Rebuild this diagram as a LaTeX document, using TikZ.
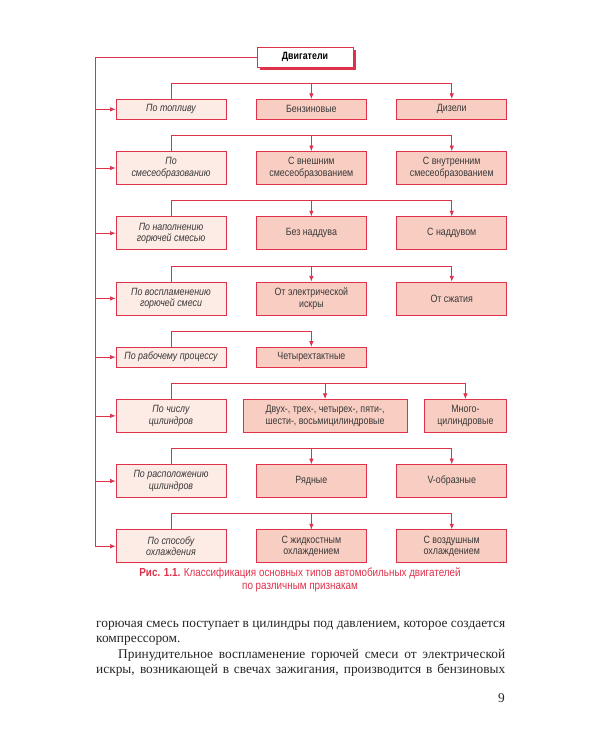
\documentclass[tikz,border=0pt]{standalone}
\usepackage{fontspec}
\setmainfont{Liberation Serif}
\newfontfamily\schemefont[FakeStretch=0.84]{Liberation Sans}
\usetikzlibrary{arrows.meta,positioning,shadows}
\definecolor{cwLine}{HTML}{E0314B}
\definecolor{cwPale}{HTML}{FDEBE5}
\definecolor{cwFill}{HTML}{F9CEC2}
\definecolor{cwText}{HTML}{383838}
\tikzset{
    head/.style={draw=cwLine, fill=white, line width=0.6pt, minimum width=2.88cm, minimum height=0.6cm, text=black, font=\schemefont\bfseries\fontsize{9}{9.8}\selectfont, general shadow={fill=cwLine, shadow xshift=2.2pt, shadow yshift=-2.2pt}},
    crit/.style={draw=cwLine, fill=cwPale, line width=0.6pt, minimum width=3.3cm, minimum height=0.6cm, inner sep=1pt, align=center, text=cwText, font=\schemefont\itshape\fontsize{9}{9.8}\selectfont},
    kind/.style={crit, fill=cwFill, font=\schemefont\fontsize{9}{9.8}\selectfont},
    tall/.style={minimum height=0.99cm},
    link/.style={draw=cwLine, line width=0.6pt, -{Latex[length=4.8pt,width=3.8pt]}},
    line/.style={draw=cwLine, line width=0.6pt}
}
\begin{document}
\begin{tikzpicture}
    \useasboundingbox[fill=white] (0,0) rectangle (18,-22.5);

    % Nodes
    \node[head] (head) at (9.15,-1.71) {Двигатели};

    \node[crit] (c1) at (5.13,-3.28) {По топливу};
    \node[kind, right=0.89cm of c1] (m1) {Бензиновые};
    \node[kind, right=0.89cm of m1] (r1) {Дизели};

    \node[crit, tall, below=0.945cm of c1] (c2) {По\\смесеобразованию};
    \node[kind, tall, right=0.89cm of c2] (m2) {С внешним\\смесеобразованием};
    \node[kind, tall, right=0.89cm of m2] (r2) {С внутренним\\смесеобразованием};

    \node[crit, tall, below=0.945cm of c2] (c3) {По наполнению\\горючей смесью};
    \node[kind, tall, right=0.89cm of c3] (m3) {Без наддува};
    \node[kind, tall, right=0.89cm of m3] (r3) {С наддувом};

    \node[crit, tall, below=0.945cm of c3] (c4) {По воспламенению\\горючей смеси};
    \node[kind, tall, right=0.89cm of c4] (m4) {От электрической\\искры};
    \node[kind, tall, right=0.89cm of m4] (r4) {От сжатия};

    \node[crit, below=0.945cm of c4] (c5) {По рабочему процессу};
    \node[kind, right=0.89cm of c5] (m5) {Четырехтактные};

    \node[crit, tall, below=0.945cm of c5] (c6) {По числу\\цилиндров};
    \node[kind, tall, minimum width=4.92cm, right=0.49cm of c6] (m6) {Двух-, трех-, четырех-, пяти-,\\шести-, восьмицилиндровые};
    \node[kind, tall, minimum width=2.46cm, right=0.5cm of m6] (r6) {Много-\\цилиндровые};

    \node[crit, tall, below=0.945cm of c6] (c7) {По расположению\\цилиндров};
    \node[kind, tall, right=0.89cm of c7] (m7) {Рядные};
    \node[kind, tall, right=0.89cm of m7] (r7) {V-образные};

    \node[crit, tall, below=0.945cm of c7] (c8) {По способу\\охлаждения};
    \node[kind, tall, right=0.89cm of c8] (m8) {С жидкостным\\охлаждением};
    \node[kind, tall, right=0.89cm of m8] (r8) {С воздушным\\охлаждением};

    % Caption and text
    \node[align=center, text=cwLine, font=\schemefont\fontsize{10}{11}\selectfont] (caption) at (9.0,-17.39)
        {{\bfseries Рис. 1.1.} Классификация основных типов автомобильных двигателей\\по различным признакам};
    \node[anchor=north west, text width=12.27cm, inner sep=0pt, align=justify, text=black!85, font=\fontsize{11.4}{13.3}\selectfont] (body) at (2.88,-18.62)
        {\setlength{\parindent}{0.66cm}\noindent горючая смесь поступает в цилиндры под давлением, которое создается\linebreak компрессором.\par
        Принудительное воспламенение горючей смеси от электрической\linebreak искры, возникающей в свечах зажигания, производится в бензиновых\parfillskip=0pt\par};
    \node[anchor=base east, inner sep=0pt, text=black!85, font=\fontsize{11.4}{13.3}\selectfont] (page) at (15.15,-21.06) {9};

    % Arrows
    \coordinate (sp) at ([xshift=-0.61cm]c1.west);
    \draw[link] (head.west) -| (sp |- c8.west) -- (c8.west);
    \draw[link] (sp |- c1.west) -- (c1.west);
    \draw[link] (sp |- c2.west) -- (c2.west);
    \draw[link] (sp |- c3.west) -- (c3.west);
    \draw[link] (sp |- c4.west) -- (c4.west);
    \draw[link] (sp |- c5.west) -- (c5.west);
    \draw[link] (sp |- c6.west) -- (c6.west);
    \draw[link] (sp |- c7.west) -- (c7.west);

    \draw[link] (c1.north) -- ++(0,0.47) coordinate (t1) -| (r1.north);
    \draw[link] (t1 -| m1.north) -- (m1.north);
    \draw[link] (c2.north) -- ++(0,0.47) coordinate (t2) -| (r2.north);
    \draw[link] (t2 -| m2.north) -- (m2.north);
    \draw[link] (c3.north) -- ++(0,0.47) coordinate (t3) -| (r3.north);
    \draw[link] (t3 -| m3.north) -- (m3.north);
    \draw[link] (c4.north) -- ++(0,0.47) coordinate (t4) -| (r4.north);
    \draw[link] (t4 -| m4.north) -- (m4.north);
    \draw[link] (c5.north) -- ++(0,0.47) -| (m5.north);
    \draw[link] (c6.north) -- ++(0,0.47) coordinate (t6) -| (r6.north);
    \draw[link] (t6 -| m6.north) -- (m6.north);
    \draw[link] (c7.north) -- ++(0,0.47) coordinate (t7) -| (r7.north);
    \draw[link] (t7 -| m7.north) -- (m7.north);
    \draw[link] (c8.north) -- ++(0,0.47) coordinate (t8) -| (r8.north);
    \draw[link] (t8 -| m8.north) -- (m8.north);

\end{tikzpicture}
\end{document}
